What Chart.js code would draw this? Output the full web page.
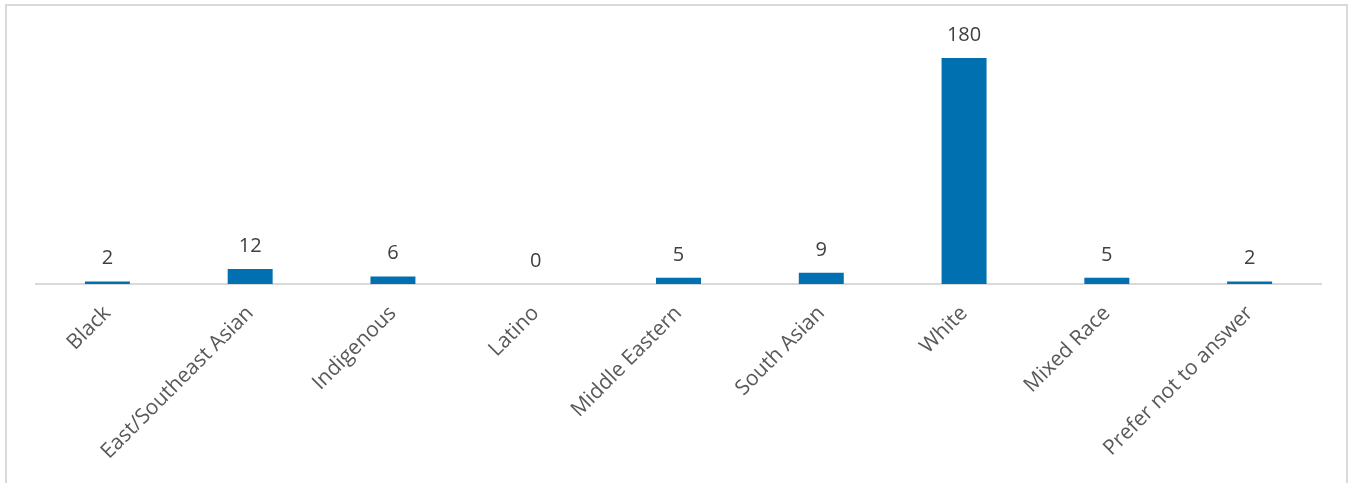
<!DOCTYPE html>
<html>
<head>
<meta charset="utf-8">
<script src="https://cdn.jsdelivr.net/npm/chart.js@4/dist/chart.umd.min.js"></script>
<style>
  html, body { margin: 0; padding: 0; background: #fff; }
  #wrap { position: relative; width: 1356px; height: 483px; overflow: hidden; }
  #frame { position: absolute; left: 5px; top: 4px; width: 1343px; height: 520px; border: 2px solid #d9d9d9; box-sizing: border-box; }
  #chart { position: absolute; left: 0; top: 0; }
</style>
</head>
<body>
<div id="wrap">
  <div id="frame"></div>
  <canvas id="chart" width="1356" height="483"></canvas>
</div>
<script>
const categories = ['Black', 'East/Southeast Asian', 'Indigenous', 'Latino', 'Middle Eastern', 'South Asian', 'White', 'Mixed Race', 'Prefer not to answer'];
const counts = [2, 12, 6, 0, 5, 9, 180, 5, 2];

// draws the number above each bar
const barLabels = {
    id: 'barLabels',
    afterDatasetsDraw(chart) {
        const ctx = chart.ctx;
        const meta = chart.getDatasetMeta(0);
        ctx.save();
        ctx.font = '20px "Open Sans"';
        ctx.fillStyle = '#404040';
        ctx.textAlign = 'center';
        ctx.textBaseline = 'alphabetic';
        meta.data.forEach((bar, i) => {
            ctx.fillText(String(counts[i]), bar.x, bar.y - 17);
        });
        ctx.restore();
    }
};

const ctx = document.getElementById('chart').getContext('2d');
const myChart = new Chart(ctx, {
    type: 'bar',
    data: {
        labels: categories,
        datasets: [{
            data: counts,
            backgroundColor: '#0070B0',
            borderWidth: 0,
            categoryPercentage: 1,
            barPercentage: 0.315
        }]
    },
    options: {
        responsive: false,
        animation: false,
        layout: { padding: { left: 36, right: 35, top: 33, bottom: 0 } },
        plugins: { legend: { display: false }, tooltip: { enabled: false } },
        scales: {
            y: { display: false, min: 0, max: 200 },
            x: {
                grid: { display: false, drawTicks: false },
                border: { display: true, color: '#d9d9d9', width: 2 },
                ticks: {
                    color: '#595959',
                    font: { family: '"Open Sans"', size: 21 },
                    minRotation: 45,
                    maxRotation: 45,
                    padding: 17,
                    autoSkip: false
                },
                afterFit(scale) { scale.height = 199; }
            }
        }
    },
    plugins: [barLabels]
});
</script>
</body>
</html>
